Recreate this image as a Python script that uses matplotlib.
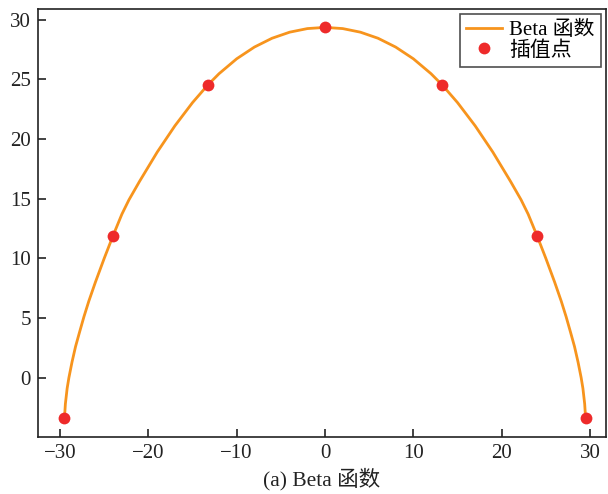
import matplotlib
matplotlib.use("Agg")
import matplotlib.pyplot as plt

plt.rcParams['font.family'] = ['Liberation Serif', 'Noto Sans CJK SC']
plt.rcParams['axes.unicode_minus'] = True

# 插值点
pts_x = [-29.5, -24.0, -13.3, 0.0, 13.3, 24.0, 29.5]
pts_y = [-3.35, 11.9, 24.5, 29.35, 24.5, 11.9, -3.35]

# Beta 函数曲线
curve_x = [-29.5, -29.4, -29.2, -29.0, -28.65, -28.25, -27.8, -27.3, -26.75, -26.0,
           -25.0, -24.0, -23.0, -22.2, -21.0, -19.0, -17.0, -15.0, -13.3, -12.0,
           -10.0, -8.0, -6.0, -4.0, -2.0,
           0.0,
           2.0, 4.0, 6.0, 8.0, 10.0, 12.0, 13.3, 15.0, 17.0, 19.0, 21.0, 22.2,
           23.0, 24.0, 25.0, 26.0, 26.75, 27.3, 27.8, 28.25, 28.65, 29.0, 29.2,
           29.4, 29.5]
curve_y = [-3.35, -2.2, -0.9, 0.0, 1.3, 2.6, 3.8, 5.1, 6.4, 8.0,
           10.0, 11.9, 13.7, 14.9, 16.45, 18.9, 21.1, 23.05, 24.5, 25.47,
           26.72, 27.7, 28.44, 28.95, 29.25,
           29.35,
           29.25, 28.95, 28.44, 27.7, 26.72, 25.47, 24.5, 23.05, 21.1, 18.9, 16.45, 14.9,
           13.7, 11.9, 10.0, 8.0, 6.4, 5.1, 3.8, 2.6, 1.3, 0.0, -0.9,
           -2.2, -3.35]

fig = plt.figure(figsize=(6.08, 4.94), dpi=100)
ax = fig.add_axes([0.0625, 0.116, 0.934, 0.866])

ax.plot(curve_x, curve_y, color='#f7941d', lw=2.0, label='Beta 函数', zorder=2)
ax.plot(pts_x, pts_y, 'o', color='#ee2a2a', ms=8.5, mec='none', label='插值点', zorder=3)

ax.set_xlim(-32.5, 31.8)
ax.set_ylim(-4.95, 30.9)
ax.set_xticks([-30, -20, -10, 0, 10, 20, 30])
ax.set_yticks([0, 5, 10, 15, 20, 25, 30])
ax.tick_params(direction='in', length=6, width=1.2, labelsize=15, pad=5,
               top=False, right=False, colors='#222222', labelcolor='#222222')
for s in ax.spines.values():
    s.set_linewidth(1.2)
    s.set_color('#222222')

ax.set_xlabel('(a) Beta 函数', fontsize=15.5, labelpad=4, color='#222222')

leg = ax.legend(loc='upper right', fontsize=15, frameon=True, fancybox=False,
                edgecolor='#222222', borderpad=0.3, handlelength=1.7,
                labelspacing=0.05, handletextpad=0.35, borderaxespad=0.25)
leg.get_frame().set_linewidth(1.2)

fig.savefig('out.png', dpi=100)
